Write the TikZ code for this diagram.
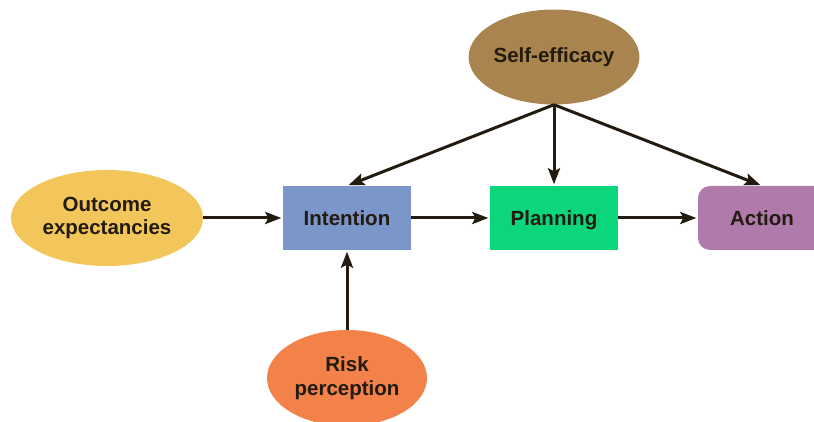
\documentclass[tikz,border=0pt]{standalone}
\usepackage{fontspec}
\setmainfont{Liberation Sans}
\usetikzlibrary{shapes.geometric,arrows.meta}
\definecolor{inkdark}{HTML}{231A10}
\definecolor{efficacy}{HTML}{A9844E}
\definecolor{outcome}{HTML}{F2C65A}
\definecolor{intent}{HTML}{7B96C8}
\definecolor{plan}{HTML}{0CD67B}
\definecolor{act}{HTML}{B07AAA}
\definecolor{risk}{HTML}{F2824A}
\tikzset{
  lbl/.style={font=\fontsize{20.5}{23.5}\selectfont\bfseries, text=inkdark, align=center, inner sep=0pt},
  oval/.style={lbl, ellipse, draw=none},
  boxnode/.style={lbl, rectangle, draw=none, text height=15pt, text depth=0pt},
  link/.style={draw=inkdark, line width=3pt, shorten >=1.5pt,
    -{Stealth[length=16pt,width=12pt,inset=3pt]}}
}
\begin{document}
\begin{tikzpicture}[x=1pt,y=-1pt]
\useasboundingbox (0,0) rectangle (814,422);
\clip (0,0) rectangle (814,422);
% factors
\node[oval, fill=efficacy, minimum width=161pt, minimum height=95pt] (eff) at (554,57) {Self-efficacy};
\node[oval, fill=outcome, minimum width=192pt, minimum height=96pt] (out) at (107,218) {Outcome\\expectancies};
\node[oval, fill=risk, minimum width=160pt, minimum height=96pt] (risk) at (347,378) {Risk\\perception};
% process stages
\node[boxnode, fill=intent, minimum width=128pt, minimum height=64pt] (int) at (347,218) {Intention};
\node[boxnode, fill=plan, minimum width=128pt, minimum height=64pt] (plan) at (554,218) {Planning};
\node[boxnode, fill=act, rounded corners=12pt, minimum width=128pt, minimum height=64pt] (act) at (762,218) {Action};
% connectors
\coordinate (effbase) at (eff.south);
\path[link] (out.east) -- (int.west);
\path[link] (int.east) -- (plan.west);
\path[link] (plan.east) -- (act.west);
\path[link] (risk.north) -- (int.south);
\path[link] (effbase) -- (int.north);
\path[link] (effbase) -- (plan.north);
\path[link] (effbase) -- (act.north);
\end{tikzpicture}
\end{document}
